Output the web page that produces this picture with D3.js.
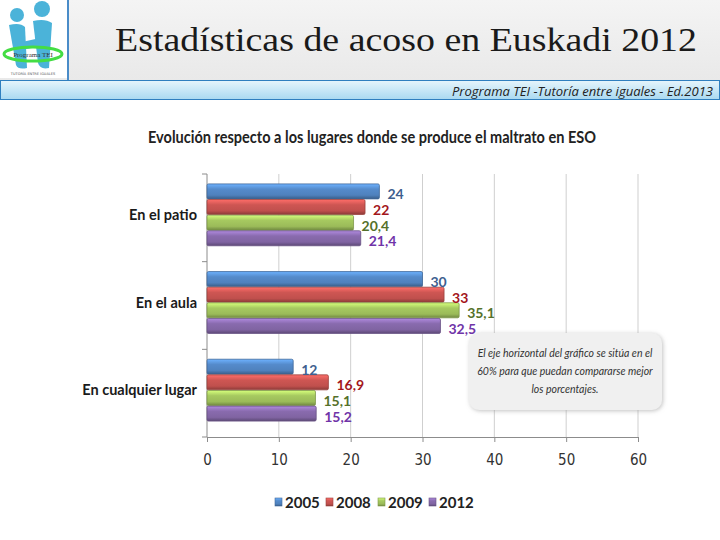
<!DOCTYPE html>
<html>
<head>
<meta charset="utf-8">
<script src="https://cdn.jsdelivr.net/npm/d3@7"></script>
<style>
  body { margin: 0; background: #fff; }
  svg { display: block; }
</style>
</head>
<body>
<svg id="chart"></svg>
<script>
// data
const categories = ["En el patio", "En el aula", "En cualquier lugar"];
const years = ["2005", "2008", "2009", "2012"];
const v2005 = [24, 30, 12];
const v2008 = [22, 33, 16.9];
const v2009 = [20.4, 35.1, 15.1];
const v2012 = [21.4, 32.5, 15.2];
const xTicks = [0, 10, 20, 30, 40, 50, 60];

const seriesValues = [v2005, v2008, v2009, v2012];
const barColors = ["#4f81bd", "#c0504d", "#9bbb59", "#8064a2"];
const labelColors = ["#3f5f8f", "#a3161c", "#55712a", "#7034a8"];

const svgWidth = 720, svgHeight = 540;
const margin = {top: 174, left: 207, right: 82, bottom: 103};
const width = svgWidth - margin.left - margin.right,
      height = svgHeight - margin.top - margin.bottom;

const narrow = "Lato, 'Liberation Sans Narrow', sans-serif";

const svg = d3.select("#chart").attr("width", svgWidth).attr("height", svgHeight);
const defs = svg.append("defs");

// header background
const hg = defs.append("linearGradient").attr("id", "hdr").attr("x1", 0).attr("x2", 0).attr("y1", 0).attr("y2", 1);
hg.append("stop").attr("offset", "0%").attr("stop-color", "#f4f4f4");
hg.append("stop").attr("offset", "100%").attr("stop-color", "#e9e9e9");
svg.append("rect").attr("x", 0).attr("y", 0).attr("width", svgWidth).attr("height", 80).attr("fill", "url(#hdr)");

const bg = defs.append("linearGradient").attr("id", "band").attr("x1", 0).attr("x2", 0).attr("y1", 0).attr("y2", 1);
bg.append("stop").attr("offset", "0%").attr("stop-color", "#e6f5fc");
bg.append("stop").attr("offset", "100%").attr("stop-color", "#a9d9f1");
svg.append("rect").attr("x", 0.5).attr("y", 80.5).attr("width", svgWidth - 1).attr("height", 19)
    .attr("fill", "url(#band)").attr("stroke", "#2f7fbf").attr("stroke-width", 1);

svg.append("text").attr("x", 713).attr("y", 96).attr("text-anchor", "end")
    .attr("textLength", 261).attr("lengthAdjust", "spacingAndGlyphs")
    .style("font-family", "'Open Sans', 'DejaVu Sans', sans-serif").style("font-style", "italic")
    .style("font-size", "12.5px").attr("fill", "#222")
    .text("Programa TEI  -Tutoría entre iguales - Ed.2013");

svg.append("text").attr("x", 115).attr("y", 51)
    .attr("textLength", 582).attr("lengthAdjust", "spacingAndGlyphs")
    .style("font-family", "'Liberation Serif', 'DejaVu Serif', serif")
    .style("font-size", "34px").attr("fill", "#1a1a1a")
    .text("Estadísticas de acoso en Euskadi 2012");

// logo
const logo = svg.append("g");
logo.append("rect").attr("x", 0).attr("y", 0).attr("width", 68).attr("height", 78).attr("fill", "#fff");
logo.append("line").attr("x1", 68).attr("x2", 68).attr("y1", 0).attr("y2", 80).attr("stroke", "#4a8cc8").attr("stroke-width", 2);
logo.append("circle").attr("cx", 17).attr("cy", 15).attr("r", 7).attr("fill", "#4bb3d9");
logo.append("circle").attr("cx", 42).attr("cy", 9).attr("r", 8).attr("fill", "#4bb3d9");
logo.append("path").attr("d", "M9,25 Q20,22 25,27 L27,68 Q18,70 16,65 Z").attr("fill", "#4bb3d9");
logo.append("path").attr("d", "M33,21 Q45,18 52,23 L49,68 Q40,70 38,63 Z").attr("fill", "#4bb3d9");
logo.append("path").attr("d", "M22,42 L40,38 L40,46 L22,50 Z").attr("fill", "#4bb3d9");
logo.append("ellipse").attr("cx", 33).attr("cy", 54).attr("rx", 29).attr("ry", 7)
    .attr("fill", "none").attr("stroke", "#44dd44").attr("stroke-width", 3);
logo.append("text").attr("x", 33).attr("y", 57).attr("text-anchor", "middle")
    .style("font-family", "'Liberation Serif', serif").style("font-size", "7px").attr("fill", "#333").text("Programa TEI");
logo.append("text").attr("x", 33).attr("y", 75).attr("text-anchor", "middle")
    .style("font-family", "'DejaVu Sans', sans-serif").style("font-size", "3.5px").attr("fill", "#555").text("TUTORÍA ENTRE IGUALES");

// chart title
svg.append("text").attr("x", 372).attr("y", 143).attr("text-anchor", "middle")
    .attr("textLength", 448).attr("lengthAdjust", "spacingAndGlyphs")
    .style("font-family", narrow).style("font-weight", "bold")
    .style("font-size", "17px").attr("fill", "#222")
    .text("Evolución respecto a los lugares donde se produce el maltrato en ESO");

const g = svg.append("g").attr("transform", `translate(${margin.left},${margin.top})`);

const xScale = d3.scaleLinear().domain([0, 60]).range([0, width]);
const yScale = d3.scaleBand().domain(categories).range([0, height]).paddingInner(0.28).paddingOuter(0.14);
const ySub = d3.scaleBand().domain(years).range([0, yScale.bandwidth()]).padding(0.04);

// gridlines
g.append("g").selectAll("line").data(xTicks.slice(1)).join("line")
    .attr("x1", d => xScale(d)).attr("x2", d => xScale(d))
    .attr("y1", 0).attr("y2", height).attr("stroke", "#cfcfcf").attr("stroke-width", 1);

// x axis
const xAxis = d3.axisBottom(xScale).tickValues(xTicks).tickSize(5).tickPadding(12);
const xa = g.append("g").attr("transform", `translate(0,${height})`).call(xAxis);
xa.select(".domain").attr("stroke", "#8c8c8c");
xa.selectAll(".tick line").attr("stroke", "#8c8c8c");
xa.selectAll("text").style("font-family", "'Liberation Sans Narrow', 'DejaVu Sans Condensed', sans-serif")
    .style("font-size", "15px").attr("fill", "#333");

// y axis
const bandTicks = [0, 1, 2, 3].map(i => i * height / 3);
g.append("line").attr("x1", 0).attr("x2", 0).attr("y1", 0).attr("y2", height).attr("stroke", "#8c8c8c");
g.append("g").selectAll("line").data(bandTicks).join("line")
    .attr("x1", -5).attr("x2", 0).attr("y1", d => d).attr("y2", d => d).attr("stroke", "#8c8c8c");
g.append("g").selectAll("text").data(categories).join("text")
    .attr("x", -10).attr("y", d => yScale(d) + yScale.bandwidth() / 2 - 3).attr("dy", "0.35em")
    .attr("text-anchor", "end")
    .style("font-family", narrow).style("font-weight", "bold")
    .style("font-size", "14.5px").attr("fill", "#1a1a1a")
    .text(d => d);

// bar gradients for a cylinder look
barColors.forEach((c, i) => {
    const lg = defs.append("linearGradient").attr("id", "bar" + i)
        .attr("x1", 0).attr("x2", 0).attr("y1", 0).attr("y2", 1);
    const col = d3.color(c);
    lg.append("stop").attr("offset", "0%").attr("stop-color", col.brighter(0.9));
    lg.append("stop").attr("offset", "35%").attr("stop-color", col.brighter(0.2));
    lg.append("stop").attr("offset", "75%").attr("stop-color", c);
    lg.append("stop").attr("offset", "100%").attr("stop-color", col.darker(0.9));
});

const rows = [];
categories.forEach((cat, ci) => {
    years.forEach((yr, si) => {
        rows.push({cat: cat, year: yr, s: si, value: seriesValues[si][ci]});
    });
});

const bars = g.append("g").attr("transform", "translate(0,-3)");
bars.selectAll("rect").data(rows).join("rect")
    .attr("x", 0)
    .attr("y", d => yScale(d.cat) + ySub(d.year))
    .attr("width", d => xScale(d.value))
    .attr("height", ySub.bandwidth())
    .attr("rx", 1.5)
    .attr("fill", d => "url(#bar" + d.s + ")")
    .attr("stroke", d => d3.color(barColors[d.s]).darker(0.6))
    .attr("stroke-width", 0.8);

bars.selectAll("text").data(rows).join("text")
    .attr("x", d => xScale(d.value) + 8)
    .attr("y", d => yScale(d.cat) + ySub(d.year) + ySub.bandwidth() / 2 + 3)
    .attr("dy", "0.35em")
    .style("font-family", narrow)
    .style("font-weight", "bold").style("font-size", "14px")
    .attr("fill", d => labelColors[d.s])
    .text(d => String(d.value).replace(".", ","));

// annotation box
const note = svg.append("g");
const shadow = defs.append("filter").attr("id", "shadow").attr("x", -0.1).attr("y", -0.1).attr("width", 1.3).attr("height", 1.3);
shadow.append("feDropShadow").attr("dx", 1).attr("dy", 1).attr("stdDeviation", 2).attr("flood-color", "#999").attr("flood-opacity", 0.6);
note.append("rect").attr("x", 469).attr("y", 333).attr("width", 193).attr("height", 77).attr("rx", 10)
    .attr("fill", "#f0f0f0").attr("filter", "url(#shadow)");
const noteLines = ["El eje horizontal del gráfico se sitúa en el", "60% para que puedan compararse mejor", "los porcentajes."];
note.selectAll("text").data(noteLines).join("text")
    .attr("x", 565).attr("y", (d, i) => 357 + i * 18).attr("text-anchor", "middle")
    .style("font-family", narrow).style("font-style", "italic")
    .style("font-size", "10.5px").attr("fill", "#333")
    .text(d => d);

// legend
const legendX = [275, 326, 378, 429];
const legend = svg.append("g").selectAll("g").data(years).join("g")
    .attr("transform", (d, i) => `translate(${legendX[i]},503)`);
legend.append("rect").attr("x", 0).attr("y", -5).attr("width", 7).attr("height", 8)
    .attr("fill", (d, i) => "url(#bar" + i + ")").attr("stroke", (d, i) => d3.color(barColors[i]).darker(0.6)).attr("stroke-width", 0.6);
legend.append("text").attr("x", 10).attr("y", 0).attr("dy", "0.35em")
    .style("font-family", narrow)
    .style("font-weight", "bold").style("font-size", "15px").attr("fill", "#222")
    .text(d => d);
</script>
</body>
</html>
